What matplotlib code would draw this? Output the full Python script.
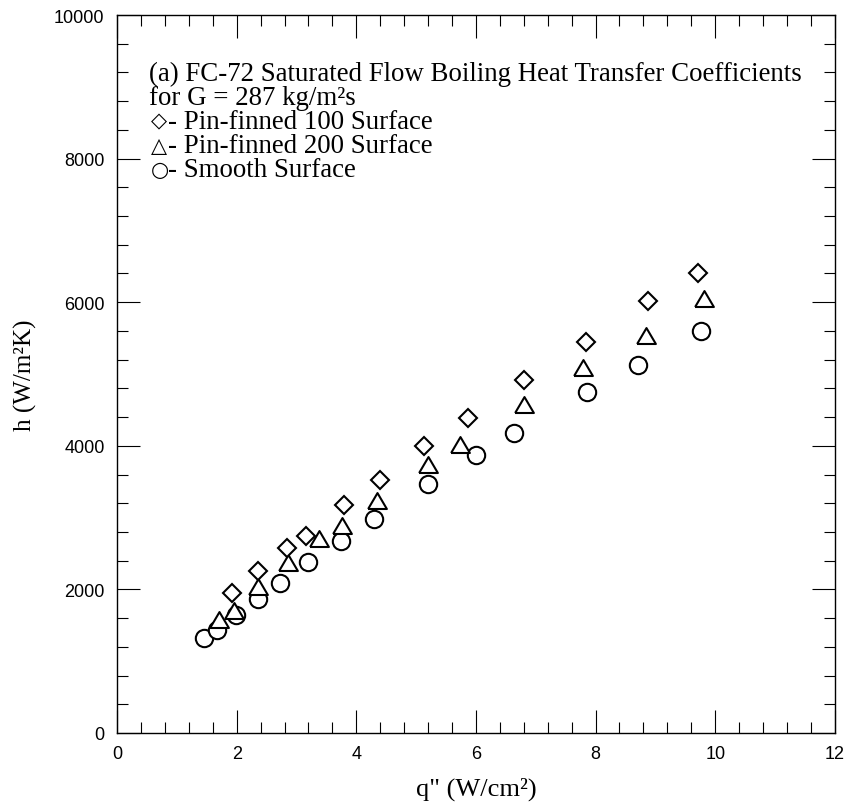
import matplotlib
matplotlib.use("Agg")
import matplotlib.pyplot as plt
import numpy as np
from matplotlib.ticker import MultipleLocator

# ─────────────────────────────
# DATA
# ─────────────────────────────
q_pin100 = [1.92, 2.36, 2.84, 3.16, 3.80, 4.40, 5.14, 5.86, 6.81, 7.84, 8.88, 9.72]
h_pin100 = [1952, 2253, 2570, 2742, 3176, 3525, 3991, 4387, 4922, 5448, 6017, 6412]

q_pin200 = [1.71, 1.95, 2.36, 2.86, 3.37, 3.76, 4.35, 5.20, 5.74, 6.80, 7.79, 8.84, 9.82]
h_pin200 = [1569, 1695, 2035, 2361, 2700, 2888, 3231, 3734, 4005, 4572, 5085, 5533, 6039]

q_smooth = [1.46, 1.67, 1.99, 2.36, 2.73, 3.19, 3.74, 4.29, 5.20, 6.00, 6.64, 7.85, 8.71, 9.76]
h_smooth = [1323, 1429, 1648, 1872, 2095, 2385, 2678, 2980, 3465, 3866, 4177, 4750, 5131, 5602]

title_lines = [
    "(a) FC-72 Saturated Flow Boiling Heat Transfer Coefficients",
    "for G = 287 kg/m\u00b2s",
]
legend_symbols = ["\u25c7", "\u25b3", "\u25cb"]
legend_labels = ["- Pin-finned 100 Surface", "- Pin-finned 200 Surface", "- Smooth Surface"]

SERIF = ["Liberation Serif", "DejaVu Sans"]
SANS = "Liberation Sans"

# equilateral-ish open triangle
tri = [(-1, -0.8), (1, -0.8), (0, 0.9), (-1, -0.8)]

fig = plt.figure(figsize=(8.51, 8.03), dpi=100)
ax = fig.add_axes([0.1375, 0.086, 0.8435, 0.894])

mk = dict(linestyle="none", markerfacecolor="white", markeredgecolor="black",
          markeredgewidth=1.5, clip_on=False)
ax.plot(q_smooth, h_smooth, marker="o", markersize=12.5, **mk)
ax.plot(q_pin200, h_pin200, marker=tri, markersize=13.5, **mk)
ax.plot(q_pin100, h_pin100, marker="D", markersize=9, **mk)

ax.set_xlim(0, 12)
ax.set_ylim(0, 10000)
ax.xaxis.set_major_locator(MultipleLocator(2))
ax.xaxis.set_minor_locator(MultipleLocator(0.4))
ax.yaxis.set_major_locator(MultipleLocator(2000))
ax.yaxis.set_minor_locator(MultipleLocator(400))
ax.tick_params(which="both", direction="in", top=True, right=True, width=0.8)
ax.tick_params(which="major", length=16.5, pad=9)
ax.tick_params(which="minor", length=8)
for lab in ax.get_xticklabels() + ax.get_yticklabels():
    lab.set_fontfamily(SANS)
    lab.set_fontsize(13)
for sp in ax.spines.values():
    sp.set_linewidth(1.0)

ax.set_xlabel("q\" (W/cm\u00b2)", fontsize=19, family=SERIF, labelpad=10)
ax.set_ylabel("h (W/m\u00b2K)", fontsize=18, family=SERIF, labelpad=12)

# legend block as plain text lines
y0 = 0.9096
dy = 0.0335
fs = 19.4
for i, line in enumerate(title_lines):
    ax.text(0.045, y0 - i * dy, line, transform=ax.transAxes,
            fontsize=fs, family=SERIF, va="baseline", ha="left")
for j, (sym, lab) in enumerate(zip(legend_symbols, legend_labels)):
    yy = y0 - (j + 2) * dy
    ax.text(0.047, yy + 0.002, sym, transform=ax.transAxes,
            fontsize=15, family="DejaVu Sans", va="baseline", ha="left")
    ax.text(0.0705, yy, lab, transform=ax.transAxes,
            fontsize=fs, family=SERIF, va="baseline", ha="left")

fig.savefig("out.png", dpi=100)
